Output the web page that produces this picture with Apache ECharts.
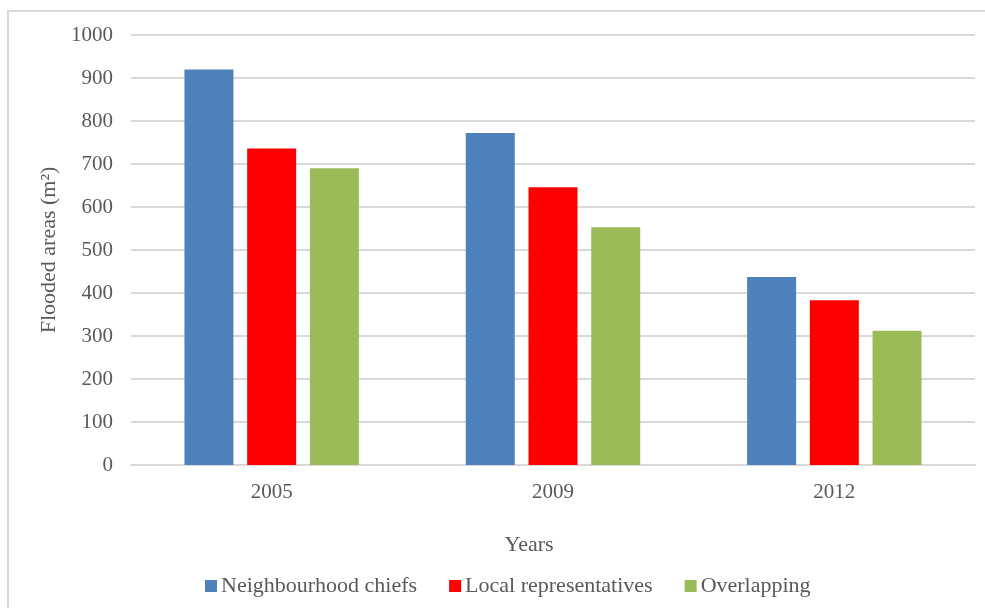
<!DOCTYPE html>
<html>
<head>
<meta charset="utf-8">
<script src="https://cdn.jsdelivr.net/npm/echarts@6/dist/echarts.min.js"></script>
<style>
html,body{margin:0;padding:0;background:#fff;}
#chart{width:985px;height:608px;}
</style>
</head>
<body>
<div id="chart"></div>
<script>
const categories = ['2005', '2009', '2012'];
const seriesNames = ['Neighbourhood chiefs', 'Local representatives', 'Overlapping'];
const neighbourhoodChiefs = [920, 772, 437];
const localRepresentatives = [736, 646, 383];
const overlapping = [690, 553, 312];
const yTicks = { min: 0, max: 1000, interval: 100 };
const colors = ['#4f81bd', '#ff0000', '#9bbb59'];

const font = '"Liberation Serif", "Times New Roman", serif';
const textColor = '#595959';

const chart = echarts.init(document.getElementById('chart'), null, { renderer: 'canvas' });
const values = [neighbourhoodChiefs, localRepresentatives, overlapping];

chart.setOption({
  animation: false,
  backgroundColor: '#fff',
  textStyle: { fontFamily: font, color: textColor },
  grid: { left: 131, right: 10, top: 35, bottom: 143, containLabel: false },
  legend: {
    left: 200,
    top: 570,
    itemWidth: 12,
    itemHeight: 12,
    itemGap: 32,
    icon: 'rect',
    textStyle: { fontFamily: font, fontSize: 22, color: textColor, padding: [0, 0, 0, -1] },
    data: seriesNames
  },
  graphic: [
    {
      type: 'rect',
      shape: { x: 8, y: 11, width: 990, height: 620 },
      style: { fill: 'none', stroke: '#d9d9d9', lineWidth: 2 },
      silent: true
    },
    {
      type: 'text',
      x: 529,
      y: 545,
      style: {
        text: 'Years',
        align: 'center',
        verticalAlign: 'middle',
        font: '22px ' + font,
        fill: textColor
      }
    }
  ],
  xAxis: {
    type: 'category',
    data: categories,
    axisLine: { show: true, lineStyle: { color: '#d9d9d9', width: 2 } },
    axisTick: { show: false },
    axisLabel: { fontFamily: font, fontSize: 21, color: textColor, margin: 17 }
  },
  yAxis: {
    type: 'value',
    min: yTicks.min,
    max: yTicks.max,
    interval: yTicks.interval,
    name: 'Flooded areas (m²)',
    nameLocation: 'middle',
    nameGap: 66,
    nameTextStyle: { fontFamily: font, fontSize: 22, color: textColor },
    axisLine: { show: false },
    axisTick: { show: false },
    axisLabel: { fontFamily: font, fontSize: 21, color: textColor, margin: 18, formatter: (v) => String(v) },
    splitLine: { lineStyle: { color: '#d9d9d9', width: 2 } }
  },
  series: seriesNames.map((name, i) => ({
    name: name,
    type: 'bar',
    data: values[i],
    barWidth: 49,
    barGap: '28%',
    itemStyle: { color: colors[i] }
  }))
});
</script>
</body>
</html>
